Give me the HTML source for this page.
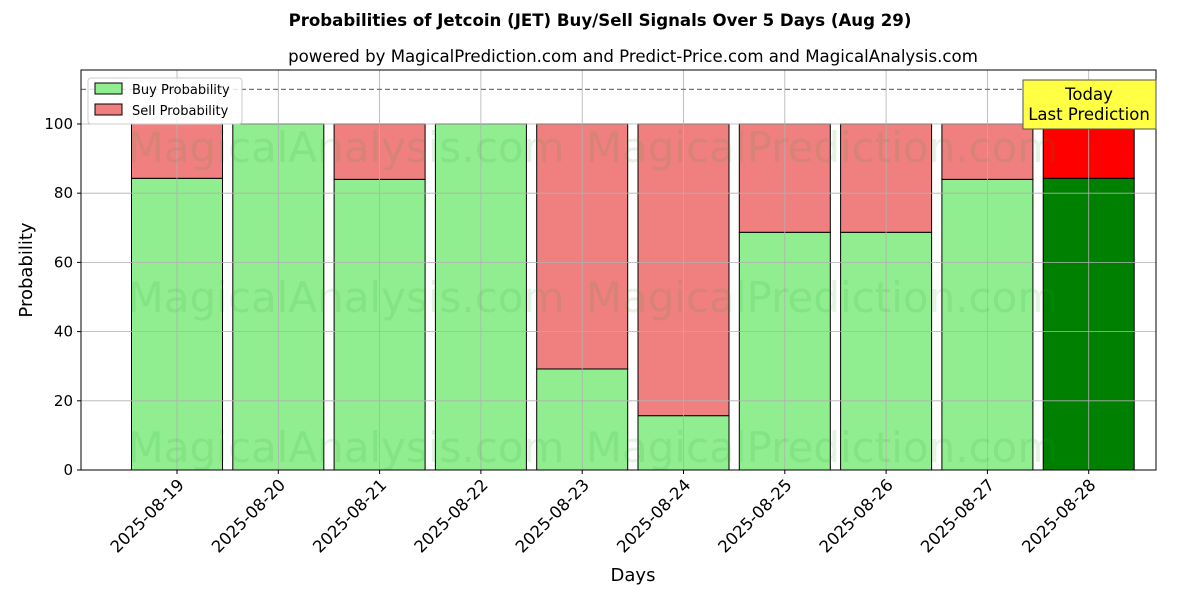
<!DOCTYPE html>
<html><head><meta charset="utf-8"><style>
body{margin:0;background:#fff;font-family:"Liberation Sans","DejaVu Sans",sans-serif}
</style></head><body>
<svg id="chart" width="1200" height="600" xmlns="http://www.w3.org/2000/svg" font-family="DejaVu Sans, Liberation Sans, sans-serif">
<text x="600" y="26" text-anchor="middle" font-size="16.6" font-weight="bold">Probabilities of Jetcoin (JET) Buy/Sell Signals Over 5 Days (Aug 29)</text>
<text x="633" y="62" text-anchor="middle" font-size="16.6">powered by MagicalPrediction.com and Predict-Price.com and MagicalAnalysis.com</text>
<g id="bars"></g>
<g id="grid"></g>
<g id="wm" font-size="42" fill="#2ca02c" fill-opacity="0.12">
<text x="346" y="162" text-anchor="middle">MagicalAnalysis.com</text>
<text x="822" y="162" text-anchor="middle">MagicalPrediction.com</text>
<text x="346" y="312" text-anchor="middle">MagicalAnalysis.com</text>
<text x="822" y="312" text-anchor="middle">MagicalPrediction.com</text>
<text x="346" y="462" text-anchor="middle">MagicalAnalysis.com</text>
<text x="822" y="462" text-anchor="middle">MagicalPrediction.com</text>
</g>
<line x1="81" x2="1156" y1="89.4" y2="89.4" stroke="#777" stroke-width="1.2" stroke-dasharray="5,3"/>
<rect x="81" y="70" width="1075" height="400" fill="none" stroke="#000" stroke-width="1"/>
<g id="axes"></g>
<text x="633" y="581" text-anchor="middle" font-size="18">Days</text>
<text transform="translate(32,270) rotate(-90)" text-anchor="middle" font-size="18">Probability</text>
<g>
<rect x="1023" y="80" width="133" height="49" fill="#ffff44" stroke="#555" stroke-width="1"/>
<text x="1089" y="100" text-anchor="middle" font-size="16.5">Today</text>
<text x="1089" y="120" text-anchor="middle" font-size="16.5">Last Prediction</text>
</g>
<g>
<rect x="88" y="78" width="154" height="46" fill="#fff" fill-opacity="0.8" stroke="#ccc" rx="3"/>
<rect x="95" y="83" width="27" height="11" fill="#90ee90" stroke="#000"/>
<text x="132" y="94" font-size="13">Buy Probability</text>
<rect x="95" y="104" width="27" height="11" fill="#f08080" stroke="#000"/>
<text x="132" y="115" font-size="13">Sell Probability</text>
</g>
</svg>
<script>
const categories=["2025-08-19","2025-08-20","2025-08-21","2025-08-22","2025-08-23","2025-08-24","2025-08-25","2025-08-26","2025-08-27","2025-08-28"];
const buyValues=[84.3,100,84,100,29.2,15.7,68.7,68.7,84,84.3];
const sellValues=[15.7,0,16,0,70.8,84.3,31.3,31.3,16,15.7];
const yTicks=[0,20,40,60,80,100];
const NS="http://www.w3.org/2000/svg";
const L=81,R=1156,T=70,B=470,YMAX=115.6;
const y=v=>B-v/YMAX*(B-T);
const x0=177, dx=101.3, bw=91;
const xc=i=>x0+i*dx;
function mk(tag,attrs,parent){const e=document.createElementNS(NS,tag);for(const k in attrs)e.setAttribute(k,attrs[k]);parent.appendChild(e);return e;}
const grid=document.getElementById('grid'),bars=document.getElementById('bars'),axes=document.getElementById('axes');
yTicks.forEach(t=>{
 const g=mk('line',{x1:L,x2:R,y1:y(t),y2:y(t),stroke:'#b0b0b0','stroke-width':0.8},grid);
 
 
 mk('line',{x1:L-4,x2:L,y1:y(t),y2:y(t),stroke:'#000'},axes);
 const tx=mk('text',{x:L-8,y:y(t)+5,'text-anchor':'end','font-size':15},axes);
 tx.textContent=t;
 
 
});
categories.forEach((c,i)=>{
 const g=mk('line',{x1:xc(i),x2:xc(i),y1:T,y2:B,stroke:'#b0b0b0','stroke-width':0.8},grid);
 
 
 const last=i===categories.length-1;
 const b=mk('rect',{x:xc(i)-bw/2,y:y(buyValues[i]),width:bw,height:B-y(buyValues[i]),fill:last?'#008000':'#90ee90',stroke:'#000','stroke-width':1},bars);
 
 
 const s=mk('rect',{x:xc(i)-bw/2,y:y(buyValues[i]+sellValues[i]),width:bw,height:y(buyValues[i])-y(buyValues[i]+sellValues[i]),fill:last?'#ff0000':'#f08080',stroke:'#000','stroke-width':1},bars);
 
 
 mk('line',{x1:xc(i),x2:xc(i),y1:B,y2:B+4,stroke:'#000'},axes);
 const tx=mk('text',{x:0,y:0,'text-anchor':'end','font-size':16.5,transform:`translate(${xc(i)+8},${B+16}) rotate(-45)`},axes);
 tx.textContent=c;
 
 
});
</script>
</body></html>
